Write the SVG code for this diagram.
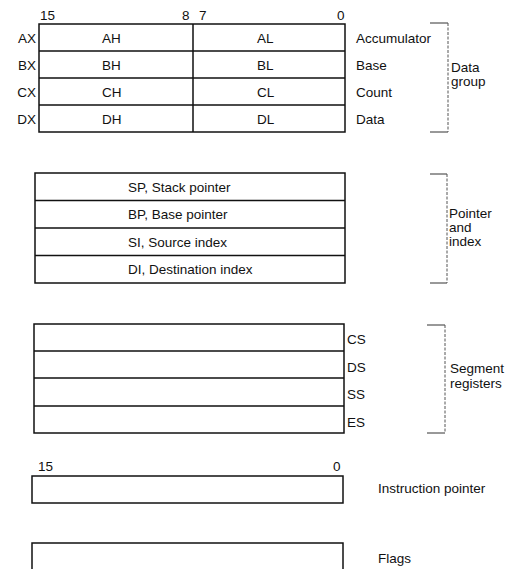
<svg xmlns="http://www.w3.org/2000/svg" width="519" height="569" viewBox="0 0 519 569">
<style>
text{font-family:"Liberation Sans",Arial,sans-serif;font-size:13.5px;fill:#111}
.box{fill:#fff;stroke:#111;stroke-width:1.5}
.sep{stroke:#111;stroke-width:1.5;fill:none}
.tick{stroke:#333;stroke-width:1;fill:none}
.vert{stroke:#555;stroke-width:1;fill:none;stroke-dasharray:3 1.5}
.end{text-anchor:end}
</style>
<rect width="519" height="569" fill="#fff"/>

<g id="data-group">
  <text x="40" y="20">15</text>
  <text x="182" y="20">8</text>
  <text x="199" y="20">7</text>
  <text x="337" y="20">0</text>
  <rect class="box" x="39" y="24" width="306" height="108"/>
  <path class="sep" d="M39,51H345M39,78H345M39,105H345M193,24V132"/>
  <text class="end" x="36" y="43">AX</text>
  <text class="end" x="36" y="70">BX</text>
  <text class="end" x="36" y="97">CX</text>
  <text class="end" x="36" y="124">DX</text>
  <text x="102" y="43">AH</text>
  <text x="102" y="70">BH</text>
  <text x="102" y="97">CH</text>
  <text x="102" y="124">DH</text>
  <text x="257" y="43">AL</text>
  <text x="257" y="70">BL</text>
  <text x="257" y="97">CL</text>
  <text x="257" y="124">DL</text>
  <text x="356" y="43">Accumulator</text>
  <text x="356" y="70">Base</text>
  <text x="356" y="97">Count</text>
  <text x="356" y="124">Data</text>
  <text x="451" y="72">Data</text>
  <text x="451" y="86">group</text>
</g>

<g id="pointer-index">
  <rect class="box" x="35" y="173" width="310" height="110"/>
  <path class="sep" d="M35,200.5H345M35,228H345M35,255.5H345"/>
  <text x="128" y="192">SP, Stack pointer</text>
  <text x="128" y="219">BP, Base pointer</text>
  <text x="128" y="247">SI, Source index</text>
  <text x="128" y="274">DI, Destination index</text>
  <text x="449" y="218">Pointer</text>
  <text x="449" y="232">and</text>
  <text x="449" y="246">index</text>
</g>

<g id="segment-registers">
  <rect class="box" x="34" y="324" width="310" height="109"/>
  <path class="sep" d="M34,351H344M34,378H344M34,406H344"/>
  <text x="347" y="344">CS</text>
  <text x="347" y="372">DS</text>
  <text x="347" y="399">SS</text>
  <text x="347" y="427">ES</text>
  <text x="450" y="373">Segment</text>
  <text x="450" y="388">registers</text>
</g>

<g id="instruction-pointer">
  <text x="38" y="471">15</text>
  <text x="333" y="471">0</text>
  <rect class="box" x="32" y="476" width="311" height="27"/>
  <text x="378" y="493">Instruction pointer</text>
</g>

<g id="flags">
  <rect class="box" x="32" y="543" width="311" height="40"/>
  <text x="378" y="563">Flags</text>
</g>

<g id="connectors">
  <path class="tick" d="M430,23H448M430,132H448M430,174H447M430,283H447M427,325H445M427,433H445"/>
  <path class="vert" d="M448,23V132M447,174V283M445,325V433"/>
</g>
</svg>
